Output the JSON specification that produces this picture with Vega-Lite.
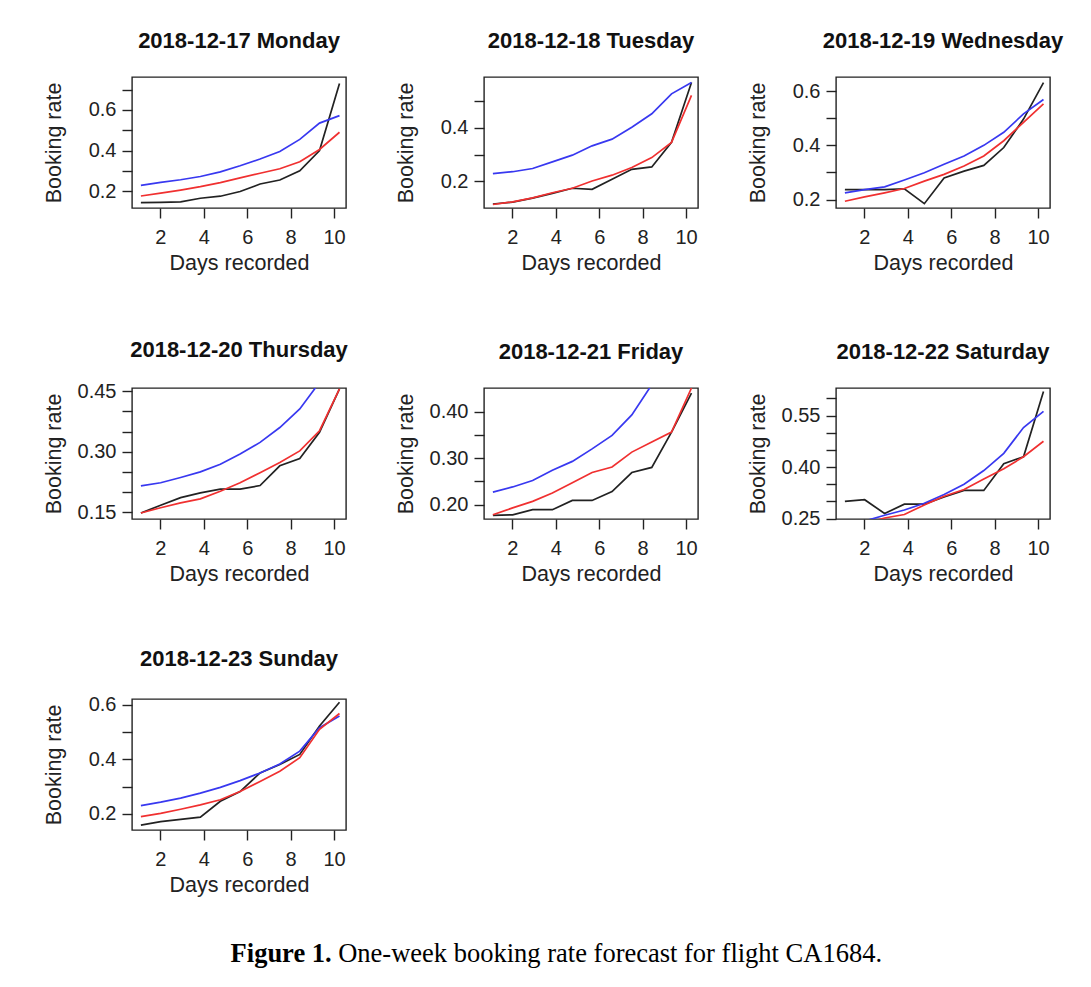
{
  "$schema": "https://vega.github.io/schema/vega-lite/v6.json",
  "background": "white",
  "padding": {"left": 42, "top": 29, "right": 5, "bottom": 5},
  "title": {"text": "Figure 1.", "orient": "bottom", "anchor": "middle", "font": "Liberation Serif", "fontSize": 26.5, "fontWeight": "bold", "color": "#000000", "offset": 0, "dx": -272, "dy": -26.5},
  "datasets": {
    "rates": [
      {"day": "Mon", "x": 1.1, "actual": 0.143, "model_1": 0.228, "model_2": 0.176},
      {"day": "Mon", "x": 2.01, "actual": 0.145, "model_1": 0.243, "model_2": 0.19},
      {"day": "Mon", "x": 2.93, "actual": 0.147, "model_1": 0.256, "model_2": 0.205},
      {"day": "Mon", "x": 3.84, "actual": 0.165, "model_1": 0.272, "model_2": 0.222},
      {"day": "Mon", "x": 4.76, "actual": 0.175, "model_1": 0.295, "model_2": 0.242},
      {"day": "Mon", "x": 5.67, "actual": 0.198, "model_1": 0.325, "model_2": 0.265},
      {"day": "Mon", "x": 6.59, "actual": 0.235, "model_1": 0.358, "model_2": 0.288},
      {"day": "Mon", "x": 7.5, "actual": 0.255, "model_1": 0.395, "model_2": 0.31},
      {"day": "Mon", "x": 8.42, "actual": 0.3, "model_1": 0.455, "model_2": 0.345},
      {"day": "Mon", "x": 9.33, "actual": 0.4, "model_1": 0.535, "model_2": 0.405},
      {"day": "Mon", "x": 10.25, "actual": 0.73, "model_1": 0.572, "model_2": 0.49},

      {"day": "Tue", "x": 1.1, "actual": 0.115, "model_1": 0.229, "model_2": 0.113},
      {"day": "Tue", "x": 2.01, "actual": 0.122, "model_1": 0.236, "model_2": 0.123},
      {"day": "Tue", "x": 2.93, "actual": 0.137, "model_1": 0.248, "model_2": 0.138},
      {"day": "Tue", "x": 3.84, "actual": 0.155, "model_1": 0.273, "model_2": 0.157},
      {"day": "Tue", "x": 4.76, "actual": 0.174, "model_1": 0.298, "model_2": 0.174},
      {"day": "Tue", "x": 5.67, "actual": 0.17, "model_1": 0.333, "model_2": 0.201},
      {"day": "Tue", "x": 6.59, "actual": 0.208, "model_1": 0.358, "model_2": 0.223},
      {"day": "Tue", "x": 7.5, "actual": 0.245, "model_1": 0.403, "model_2": 0.252},
      {"day": "Tue", "x": 8.42, "actual": 0.254, "model_1": 0.453, "model_2": 0.289},
      {"day": "Tue", "x": 9.33, "actual": 0.346, "model_1": 0.528, "model_2": 0.346},
      {"day": "Tue", "x": 10.25, "actual": 0.57, "model_1": 0.57, "model_2": 0.522},

      {"day": "Wed", "x": 1.1, "actual": 0.237, "model_1": 0.225, "model_2": 0.194},
      {"day": "Wed", "x": 2.01, "actual": 0.237, "model_1": 0.237, "model_2": 0.21},
      {"day": "Wed", "x": 2.93, "actual": 0.237, "model_1": 0.247, "model_2": 0.225},
      {"day": "Wed", "x": 3.84, "actual": 0.24, "model_1": 0.272, "model_2": 0.241},
      {"day": "Wed", "x": 4.76, "actual": 0.185, "model_1": 0.299, "model_2": 0.268},
      {"day": "Wed", "x": 5.67, "actual": 0.28, "model_1": 0.33, "model_2": 0.293},
      {"day": "Wed", "x": 6.59, "actual": 0.305, "model_1": 0.361, "model_2": 0.324},
      {"day": "Wed", "x": 7.5, "actual": 0.326, "model_1": 0.4, "model_2": 0.361},
      {"day": "Wed", "x": 8.42, "actual": 0.392, "model_1": 0.448, "model_2": 0.417},
      {"day": "Wed", "x": 9.33, "actual": 0.497, "model_1": 0.516, "model_2": 0.485},
      {"day": "Wed", "x": 10.25, "actual": 0.631, "model_1": 0.569, "model_2": 0.553},

      {"day": "Thu", "x": 1.1, "actual": 0.148, "model_1": 0.215, "model_2": 0.148},
      {"day": "Thu", "x": 2.01, "actual": 0.167, "model_1": 0.223, "model_2": 0.161},
      {"day": "Thu", "x": 2.93, "actual": 0.186, "model_1": 0.236, "model_2": 0.173},
      {"day": "Thu", "x": 3.84, "actual": 0.198, "model_1": 0.25, "model_2": 0.183},
      {"day": "Thu", "x": 4.76, "actual": 0.207, "model_1": 0.269, "model_2": 0.202},
      {"day": "Thu", "x": 5.67, "actual": 0.207, "model_1": 0.294, "model_2": 0.223},
      {"day": "Thu", "x": 6.59, "actual": 0.216, "model_1": 0.323, "model_2": 0.248},
      {"day": "Thu", "x": 7.5, "actual": 0.265, "model_1": 0.36, "model_2": 0.273},
      {"day": "Thu", "x": 8.42, "actual": 0.283, "model_1": 0.406, "model_2": 0.302},
      {"day": "Thu", "x": 9.33, "actual": 0.348, "model_1": 0.472, "model_2": 0.352},
      {"day": "Thu", "x": 10.25, "actual": 0.456, "model_1": 0.56, "model_2": 0.456},

      {"day": "Fri", "x": 1.1, "actual": 0.177, "model_1": 0.227, "model_2": 0.178},
      {"day": "Fri", "x": 2.01, "actual": 0.178, "model_1": 0.238, "model_2": 0.193},
      {"day": "Fri", "x": 2.93, "actual": 0.189, "model_1": 0.252, "model_2": 0.207},
      {"day": "Fri", "x": 3.84, "actual": 0.189, "model_1": 0.274, "model_2": 0.225},
      {"day": "Fri", "x": 4.76, "actual": 0.209, "model_1": 0.293, "model_2": 0.247},
      {"day": "Fri", "x": 5.67, "actual": 0.209, "model_1": 0.32, "model_2": 0.269},
      {"day": "Fri", "x": 6.59, "actual": 0.228, "model_1": 0.349, "model_2": 0.281},
      {"day": "Fri", "x": 7.5, "actual": 0.269, "model_1": 0.393, "model_2": 0.313},
      {"day": "Fri", "x": 8.42, "actual": 0.28, "model_1": 0.458, "model_2": 0.335},
      {"day": "Fri", "x": 9.33, "actual": 0.356, "model_1": 0.55, "model_2": 0.356},
      {"day": "Fri", "x": 10.25, "actual": 0.44, "model_1": 0.65, "model_2": 0.451},

      {"day": "Sat", "x": 1.1, "actual": 0.3, "model_1": 0.225, "model_2": 0.215},
      {"day": "Sat", "x": 2.01, "actual": 0.305, "model_1": 0.243, "model_2": 0.235},
      {"day": "Sat", "x": 2.93, "actual": 0.265, "model_1": 0.26, "model_2": 0.252},
      {"day": "Sat", "x": 3.84, "actual": 0.292, "model_1": 0.275, "model_2": 0.262},
      {"day": "Sat", "x": 4.76, "actual": 0.292, "model_1": 0.295, "model_2": 0.29},
      {"day": "Sat", "x": 5.67, "actual": 0.313, "model_1": 0.32, "model_2": 0.315},
      {"day": "Sat", "x": 6.59, "actual": 0.332, "model_1": 0.35, "model_2": 0.335},
      {"day": "Sat", "x": 7.5, "actual": 0.332, "model_1": 0.39, "model_2": 0.365},
      {"day": "Sat", "x": 8.42, "actual": 0.41, "model_1": 0.44, "model_2": 0.395},
      {"day": "Sat", "x": 9.33, "actual": 0.43, "model_1": 0.515, "model_2": 0.43},
      {"day": "Sat", "x": 10.25, "actual": 0.62, "model_1": 0.562, "model_2": 0.475},

      {"day": "Sun", "x": 1.1, "actual": 0.159, "model_1": 0.23, "model_2": 0.19},
      {"day": "Sun", "x": 2.01, "actual": 0.172, "model_1": 0.243, "model_2": 0.202},
      {"day": "Sun", "x": 2.93, "actual": 0.18, "model_1": 0.258, "model_2": 0.217},
      {"day": "Sun", "x": 3.84, "actual": 0.188, "model_1": 0.276, "model_2": 0.233},
      {"day": "Sun", "x": 4.76, "actual": 0.246, "model_1": 0.297, "model_2": 0.252},
      {"day": "Sun", "x": 5.67, "actual": 0.282, "model_1": 0.322, "model_2": 0.282},
      {"day": "Sun", "x": 6.59, "actual": 0.35, "model_1": 0.35, "model_2": 0.319},
      {"day": "Sun", "x": 7.5, "actual": 0.381, "model_1": 0.383, "model_2": 0.356},
      {"day": "Sun", "x": 8.42, "actual": 0.418, "model_1": 0.43, "model_2": 0.406},
      {"day": "Sun", "x": 9.33, "actual": 0.522, "model_1": 0.516, "model_2": 0.51},
      {"day": "Sun", "x": 10.25, "actual": 0.609, "model_1": 0.559, "model_2": 0.568}
    ]
  },
  "vconcat": [
    {
      "title": {"text": "One-week booking rate forecast for flight CA1684.", "orient": "bottom", "anchor": "middle", "font": "Liberation Serif", "fontSize": 26.5, "fontWeight": "normal", "color": "#000000", "offset": 45, "dx": 57},
      "columns": 3,
      "spacing": {"row": 180, "column": 138},
      "bounds": "flush",
      "concat": [
        {
          "title": "2018-12-17 Monday",
          "width": 214, "height": 131,
          "data": {"name": "rates"},
          "transform": [{"filter": "datum.day == 'Mon'"}, {"fold": ["actual", "model_1", "model_2"], "as": ["series", "rate"]}],
          "mark": {"type": "line", "clip": true, "strokeWidth": 1.7},
          "encoding": {
            "x": {"field": "x", "type": "quantitative", "scale": {"domain": [0.69, 10.55], "nice": false, "zero": false}, "axis": {"title": "Days recorded", "values": [2, 4, 6, 8, 10], "format": "d"}},
            "y": {"field": "rate", "type": "quantitative", "scale": {"domain": [0.117, 0.762], "nice": false, "zero": false}, "axis": {"title": "Booking rate", "values": [0.2, 0.3, 0.4, 0.5, 0.6, 0.7], "labelExpr": "round(datum.value * 10) % 2 == 0 ? format(datum.value, '.1f') : ''"}},
            "stroke": {"field": "series", "type": "nominal", "scale": {"domain": ["actual", "model_1", "model_2"], "range": ["#222222", "#3838f0", "#f03030"]}, "legend": null}
          }
        },
        {
          "title": "2018-12-18 Tuesday",
          "width": 214, "height": 131,
          "data": {"name": "rates"},
          "transform": [{"filter": "datum.day == 'Tue'"}, {"fold": ["actual", "model_1", "model_2"], "as": ["series", "rate"]}],
          "mark": {"type": "line", "clip": true, "strokeWidth": 1.7},
          "encoding": {
            "x": {"field": "x", "type": "quantitative", "scale": {"domain": [0.69, 10.55], "nice": false, "zero": false}, "axis": {"title": "Days recorded", "values": [2, 4, 6, 8, 10], "format": "d"}},
            "y": {"field": "rate", "type": "quantitative", "scale": {"domain": [0.1, 0.591], "nice": false, "zero": false}, "axis": {"title": "Booking rate", "values": [0.2, 0.3, 0.4, 0.5], "labelExpr": "round(datum.value * 10) % 2 == 0 ? format(datum.value, '.1f') : ''"}},
            "stroke": {"field": "series", "type": "nominal", "scale": {"domain": ["actual", "model_1", "model_2"], "range": ["#222222", "#3838f0", "#f03030"]}, "legend": null}
          }
        },
        {
          "title": "2018-12-19 Wednesday",
          "width": 214, "height": 131,
          "data": {"name": "rates"},
          "transform": [{"filter": "datum.day == 'Wed'"}, {"fold": ["actual", "model_1", "model_2"], "as": ["series", "rate"]}],
          "mark": {"type": "line", "clip": true, "strokeWidth": 1.7},
          "encoding": {
            "x": {"field": "x", "type": "quantitative", "scale": {"domain": [0.69, 10.55], "nice": false, "zero": false}, "axis": {"title": "Days recorded", "values": [2, 4, 6, 8, 10], "format": "d"}},
            "y": {"field": "rate", "type": "quantitative", "scale": {"domain": [0.169, 0.652], "nice": false, "zero": false}, "axis": {"title": "Booking rate", "values": [0.2, 0.3, 0.4, 0.5, 0.6], "labelExpr": "round(datum.value * 10) % 2 == 0 ? format(datum.value, '.1f') : ''"}},
            "stroke": {"field": "series", "type": "nominal", "scale": {"domain": ["actual", "model_1", "model_2"], "range": ["#222222", "#3838f0", "#f03030"]}, "legend": null}
          }
        },
        {
          "title": {"text": "2018-12-20 Thursday", "offset": 19},
          "width": 214, "height": 131,
          "data": {"name": "rates"},
          "transform": [{"filter": "datum.day == 'Thu'"}, {"fold": ["actual", "model_1", "model_2"], "as": ["series", "rate"]}],
          "mark": {"type": "line", "clip": true, "strokeWidth": 1.7},
          "encoding": {
            "x": {"field": "x", "type": "quantitative", "scale": {"domain": [0.69, 10.55], "nice": false, "zero": false}, "axis": {"title": "Days recorded", "values": [2, 4, 6, 8, 10], "format": "d"}},
            "y": {"field": "rate", "type": "quantitative", "scale": {"domain": [0.133, 0.458], "nice": false, "zero": false}, "axis": {"title": "Booking rate", "values": [0.15, 0.2, 0.25, 0.3, 0.35, 0.4, 0.45], "labelExpr": "round(datum.value * 20) % 3 == 0 ? format(datum.value, '.2f') : ''"}},
            "stroke": {"field": "series", "type": "nominal", "scale": {"domain": ["actual", "model_1", "model_2"], "range": ["#222222", "#3838f0", "#f03030"]}, "legend": null}
          }
        },
        {
          "title": "2018-12-21 Friday",
          "width": 214, "height": 131,
          "data": {"name": "rates"},
          "transform": [{"filter": "datum.day == 'Fri'"}, {"fold": ["actual", "model_1", "model_2"], "as": ["series", "rate"]}],
          "mark": {"type": "line", "clip": true, "strokeWidth": 1.7},
          "encoding": {
            "x": {"field": "x", "type": "quantitative", "scale": {"domain": [0.69, 10.55], "nice": false, "zero": false}, "axis": {"title": "Days recorded", "values": [2, 4, 6, 8, 10], "format": "d"}},
            "y": {"field": "rate", "type": "quantitative", "scale": {"domain": [0.169, 0.451], "nice": false, "zero": false}, "axis": {"title": "Booking rate", "values": [0.2, 0.25, 0.3, 0.35, 0.4], "labelExpr": "round(datum.value * 20) % 2 == 0 ? format(datum.value, '.2f') : ''"}},
            "stroke": {"field": "series", "type": "nominal", "scale": {"domain": ["actual", "model_1", "model_2"], "range": ["#222222", "#3838f0", "#f03030"]}, "legend": null}
          }
        },
        {
          "title": "2018-12-22 Saturday",
          "width": 214, "height": 131,
          "data": {"name": "rates"},
          "transform": [{"filter": "datum.day == 'Sat'"}, {"fold": ["actual", "model_1", "model_2"], "as": ["series", "rate"]}],
          "mark": {"type": "line", "clip": true, "strokeWidth": 1.7},
          "encoding": {
            "x": {"field": "x", "type": "quantitative", "scale": {"domain": [0.69, 10.55], "nice": false, "zero": false}, "axis": {"title": "Days recorded", "values": [2, 4, 6, 8, 10], "format": "d"}},
            "y": {"field": "rate", "type": "quantitative", "scale": {"domain": [0.249, 0.63], "nice": false, "zero": false}, "axis": {"title": "Booking rate", "values": [0.25, 0.3, 0.35, 0.4, 0.45, 0.5, 0.55, 0.6], "labelExpr": "(round(datum.value * 20) - 5) % 3 == 0 ? format(datum.value, '.2f') : ''"}},
            "stroke": {"field": "series", "type": "nominal", "scale": {"domain": ["actual", "model_1", "model_2"], "range": ["#222222", "#3838f0", "#f03030"]}, "legend": null}
          }
        },
        {
          "title": "2018-12-23 Sunday",
          "width": 214, "height": 131,
          "data": {"name": "rates"},
          "transform": [{"filter": "datum.day == 'Sun'"}, {"fold": ["actual", "model_1", "model_2"], "as": ["series", "rate"]}],
          "mark": {"type": "line", "clip": true, "strokeWidth": 1.7},
          "encoding": {
            "x": {"field": "x", "type": "quantitative", "scale": {"domain": [0.69, 10.55], "nice": false, "zero": false}, "axis": {"title": "Days recorded", "values": [2, 4, 6, 8, 10], "format": "d"}},
            "y": {"field": "rate", "type": "quantitative", "scale": {"domain": [0.141, 0.621], "nice": false, "zero": false}, "axis": {"title": "Booking rate", "values": [0.2, 0.3, 0.4, 0.5, 0.6], "labelExpr": "round(datum.value * 10) % 2 == 0 ? format(datum.value, '.1f') : ''"}},
            "stroke": {"field": "series", "type": "nominal", "scale": {"domain": ["actual", "model_1", "model_2"], "range": ["#222222", "#3838f0", "#f03030"]}, "legend": null}
          }
        }
      ]
    }
  ],
  "config": {
    "font": "Liberation Sans",
    "view": {"stroke": "#222222", "strokeWidth": 1.4},
    "title": {"font": "Liberation Sans", "fontSize": 22, "fontWeight": "bold", "color": "#111111", "anchor": "middle", "baseline": "alphabetic", "offset": 24},
    "axis": {"grid": false, "domain": false, "tickColor": "#222222", "tickWidth": 1.4, "tickSize": 10, "labelFont": "Liberation Sans", "labelFontSize": 20, "labelColor": "#222222", "labelOverlap": false, "labelFlush": false, "titleFont": "Liberation Sans", "titleFontWeight": "normal", "titleColor": "#222222"},
    "axisX": {"labelPadding": 9, "titleFontSize": 21.5, "titlePadding": 5},
    "axisY": {"labelPadding": 6, "titleFontSize": 21.5, "titleX": -67}
  }
}
